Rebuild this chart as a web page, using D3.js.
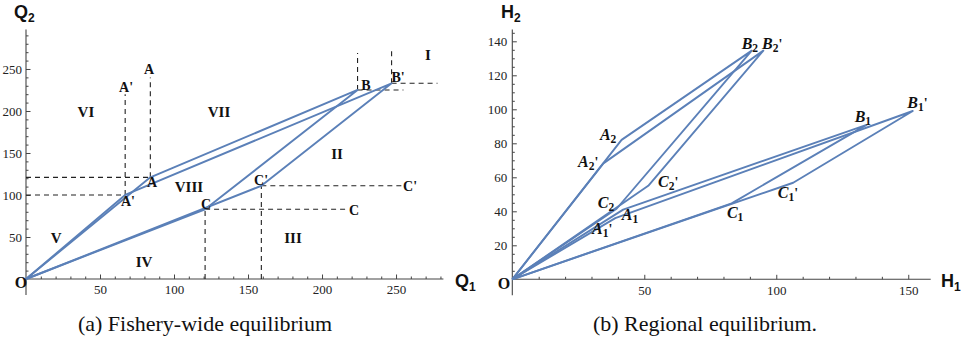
<!DOCTYPE html>
<html>
<head>
<meta charset="utf-8">
<script src="https://cdn.jsdelivr.net/npm/d3@7"></script>
<style>
  body { margin: 0; background: #fff; }
  svg { display: block; }
  .tick text { font-family: "Liberation Serif", serif; font-size: 13px; fill: #222; }
  .tick line { stroke: #444; }
</style>
</head>
<body>
<svg id="chart" width="963" height="350"></svg>
<script>
// ---- data: fishery-wide equilibrium (left) ----
const fwOABC = [[0, 0], [84, 121], [224, 225], [121, 83], [0, 0]];      // O-A-B-C-O
const fwOABCp = [[0, 0], [67, 100], [247, 233], [159, 111], [0, 0]];    // O-A'-B'-C'-O
// dashed guides: [x, yFrom, yTo] and [y, xFrom, xTo]
const fwVGuides = [[67, 100, 220], [84, 121, 240], [224, 225, 269], [247, 233, 276], [121, 0, 83], [159, 0, 111]];
const fwHGuides = [[100, 0, 67], [121, 0, 84], [83, 121, 217], [111, 159, 254], [225, 224, 255], [233, 247, 278]];
const fwRegions = [["I", 271.6, 266.7], ["II", 210.1, 148.8], ["III", 180.4, 48.8], ["IV", 79.7, 20.2],
  ["V", 20.3, 48.8], ["VI", 40.5, 198.8], ["VII", 130.4, 198.8], ["VIII", 110.1, 109.5]];
const fwPointLabels = [["A'", 67.6, 227.4], ["A", 83.1, 248.8], ["A", 85.1, 114.3], ["A'", 68.9, 91.7],
  ["C", 121.6, 88.1], ["C'", 158.8, 116.7], ["C", 221.6, 82.1], ["C'", 259.5, 110.7],
  ["B", 229.7, 229.8], ["B'", 251.4, 239.3]];
const fwXTicks = [50, 100, 150, 200, 250];
const fwYTicks = [50, 100, 150, 200, 250];

// ---- data: regional equilibrium (right) ----
const rg2 = [[0, 0], [41.4, 82], [90.7, 134.5], [39.5, 41.5], [0, 0]];     // O-A2-B2-C2-O
const rg2p = [[0, 0], [34.5, 68.2], [95.1, 134.5], [51.5, 55], [0, 0]];    // O-A2'-B2'-C2'-O
const rg1 = [[0, 0], [42, 41], [134.2, 90.8], [83.1, 44.7], [0, 0]];       // O-A1-B1-C1-O
const rg1p = [[0, 0], [39, 36], [151.7, 99], [106.4, 56.8], [0, 0]];       // O-A1'-B1'-C1'-O
// [letter, subscript, prime, x, y] (label start / baseline in data units)
const rgLabels = [["A", "2", "", 33.2, 82.1], ["A", "2", "'", 24.9, 66], ["B", "2", "", 86.9, 135.5],
  ["B", "2", "'", 94.6, 135.5], ["B", "1", "", 129.7, 92.5], ["B", "1", "'", 149.6, 100.8],
  ["C", "2", "", 32.4, 41.9], ["C", "2", "'", 55.2, 54.3], ["A", "1", "", 41.5, 34.9],
  ["A", "1", "'", 30.2, 26.6], ["C", "1", "", 81.3, 36.1], ["C", "1", "'", 100.6, 47.8]];
const rgXTicks = [50, 100, 150];
const rgYTicks = [20, 40, 60, 80, 100, 120, 140];

const blue = "#5b80b8";
const svg = d3.select("#chart");

function drawAxes(g, x, y, xMajor, yMajor, xMinorStep, yMinorStep, xPad, yPad) {
  const xMax = x.domain()[1], yMax = y.domain()[1];
  const xMinor = d3.range(xMinorStep, xMax, xMinorStep).filter(v => !xMajor.includes(v));
  const yMinor = d3.range(yMinorStep, yMax, yMinorStep).filter(v => !yMajor.includes(v));

  const gx = g.append("g").attr("transform", "translate(0," + y(0) + ")");
  gx.call(d3.axisBottom(x).tickValues(xMajor).tickSize(-4.5).tickPadding(xPad).tickFormat(d3.format("d")));
  gx.append("g").call(d3.axisBottom(x).tickValues(xMinor).tickSize(-2.5).tickFormat(""));
  gx.selectAll(".domain").remove();

  const gy = g.append("g").attr("transform", "translate(" + x(0) + ",0)");
  gy.call(d3.axisLeft(y).tickValues(yMajor).tickSize(-4.5).tickPadding(yPad).tickFormat(d3.format("d")));
  gy.append("g").call(d3.axisLeft(y).tickValues(yMinor).tickSize(-2.5).tickFormat(""));
  gy.selectAll(".domain").remove();

  g.append("line").attr("x1", x(0)).attr("x2", x(xMax)).attr("y1", y(0)).attr("y2", y(0))
    .attr("stroke", "#444").attr("stroke-width", 1.1);
  g.append("line").attr("x1", x(0)).attr("x2", x(0)).attr("y1", y(0) + 16).attr("y2", y(yMax))
    .attr("stroke", "#444").attr("stroke-width", 1.1);
}

function axisTitle(g, px, py, main, sub) {
  const t = g.append("text").attr("x", px).attr("y", py)
    .attr("font-family", "Liberation Sans, Arial, sans-serif").attr("font-weight", "bold")
    .attr("font-size", 18).attr("fill", "#111");
  t.append("tspan").text(main);
  t.append("tspan").attr("font-size", 12).attr("dy", 4).text(sub);
}

function drawLines(g, x, y, series) {
  const line = d3.line().x(d => x(d[0])).y(d => y(d[1]));
  g.selectAll("path.ser").data(series).enter().append("path")
    .attr("class", "ser")
    .attr("d", line)
    .attr("fill", "none")
    .attr("stroke", blue)
    .attr("stroke-width", 1.9)
    .attr("stroke-linejoin", "round");
}

// ================= left chart =================
const xL = d3.scaleLinear().domain([0, 282]).range([26, 443.4]);
const yL = d3.scaleLinear().domain([0, 297]).range([279, 29.5]);
const gL = svg.append("g");

drawAxes(gL, xL, yL, fwXTicks, fwYTicks, 10, 10, 6, 4);

const dash = g => g.attr("stroke", "#222").attr("stroke-width", 1.1).attr("stroke-dasharray", "5,4");
gL.selectAll("line.vg").data(fwVGuides).enter().append("line")
  .attr("x1", d => xL(d[0])).attr("x2", d => xL(d[0]))
  .attr("y1", d => yL(d[1])).attr("y2", d => yL(d[2])).call(dash);
gL.selectAll("line.hg").data(fwHGuides).enter().append("line")
  .attr("y1", d => yL(d[0])).attr("y2", d => yL(d[0]))
  .attr("x1", d => xL(d[1])).attr("x2", d => xL(d[2])).call(dash);

drawLines(gL, xL, yL, [fwOABC, fwOABCp]);

const serifBold = t => t.attr("font-family", "Liberation Serif, Times New Roman, serif")
  .attr("font-weight", "bold").attr("fill", "#111")
  .attr("text-anchor", "middle").attr("dominant-baseline", "central");

gL.selectAll("text.reg").data(fwRegions).enter().append("text")
  .attr("x", d => xL(d[1])).attr("y", d => yL(d[2])).attr("font-size", 15)
  .text(d => d[0]).call(serifBold);
gL.selectAll("text.pt").data(fwPointLabels).enter().append("text")
  .attr("x", d => xL(d[1])).attr("y", d => yL(d[2])).attr("font-size", 14)
  .text(d => d[0]).call(serifBold);
gL.append("text").attr("x", xL(-3.4)).attr("y", yL(-3.6)).attr("font-size", 16).text("O").call(serifBold);

axisTitle(gL, 14, 18, "Q", "2");
axisTitle(gL, 455, 287, "Q", "1");

// ================= right chart =================
const xR = d3.scaleLinear().domain([0, 158.5]).range([512.3, 930.7]);
const yR = d3.scaleLinear().domain([0, 147]).range([279.3, 29.4]);
const gR = svg.append("g");

drawAxes(gR, xR, yR, rgXTicks, rgYTicks, 10, 5, 6, 5);
drawLines(gR, xR, yR, [rg2, rg2p, rg1, rg1p]);

const lab = gR.selectAll("text.pl").data(rgLabels).enter().append("text")
  .attr("x", d => xR(d[3])).attr("y", d => yR(d[4]))
  .attr("font-family", "Liberation Serif, Times New Roman, serif")
  .attr("font-weight", "bold").attr("font-style", "italic")
  .attr("font-size", 16).attr("fill", "#111");
lab.append("tspan").text(d => d[0]);
lab.append("tspan").attr("font-size", 11.5).attr("font-style", "normal").attr("dy", 3).text(d => d[1]);
lab.append("tspan").attr("font-size", 14).attr("font-style", "normal").attr("dy", -3).text(d => d[2]);

gR.append("text").attr("x", 504).attr("y", 283).attr("font-size", 16).text("O").call(serifBold);

axisTitle(gR, 501, 18, "H", "2");
axisTitle(gR, 941, 287, "H", "1");

// ================= captions =================
svg.selectAll("text.cap").data(["(a) Fishery-wide equilibrium", "(b) Regional equilibrium."]).enter()
  .append("text")
  .attr("x", (d, i) => i === 0 ? 205 : 705)
  .attr("y", 331)
  .attr("text-anchor", "middle")
  .attr("font-family", "Liberation Serif, Times New Roman, serif")
  .attr("font-size", 22)
  .attr("fill", "#111")
  .text(d => d);
</script>
</body>
</html>
